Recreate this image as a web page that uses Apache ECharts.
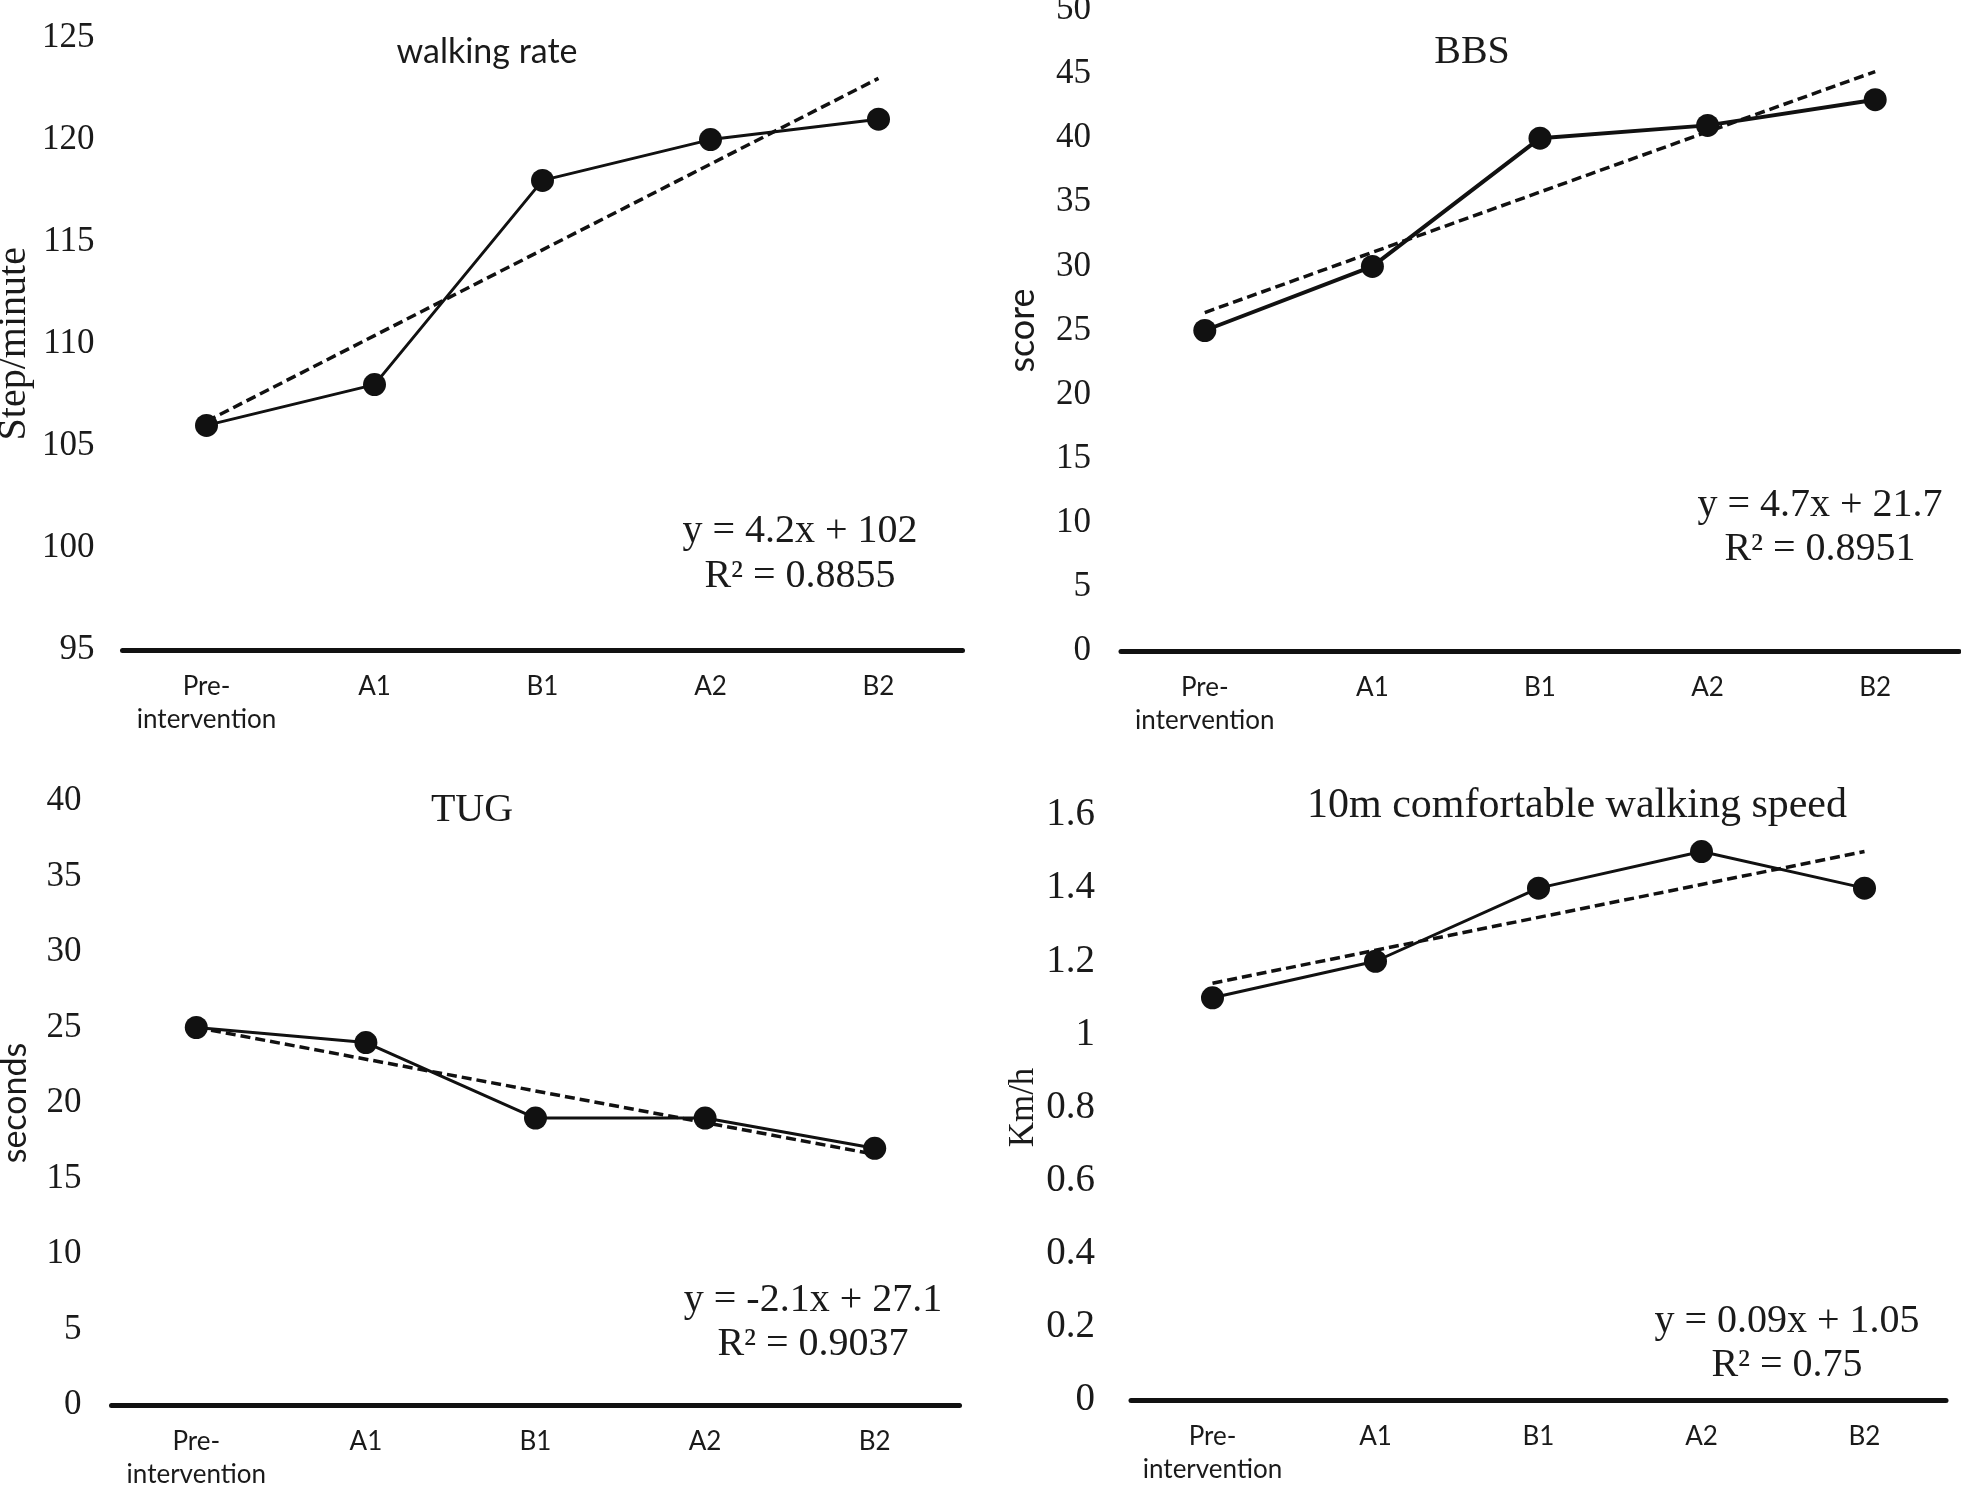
<!DOCTYPE html>
<html>
<head>
<meta charset="utf-8">
<script src="https://cdn.jsdelivr.net/npm/echarts@6/dist/echarts.min.js"></script>
<style>
html,body{margin:0;padding:0;background:#fff;}
#chart{width:1961px;height:1485px;}
</style>
</head>
<body>
<div id="chart"></div>
<script>
// ---- data ----
const categories = ['Pre-\nintervention', 'A1', 'B1', 'A2', 'B2'];

const walkingRate      = [106, 108, 118, 120, 121];
const walkingRateTrend = [106.2, 110.4, 114.6, 118.8, 123.0];

const bbs      = [25, 30, 40, 41, 43];
const bbsTrend = [26.4, 31.1, 35.8, 40.5, 45.2];

const tug      = [25, 24, 19, 19, 17];
const tugTrend = [25.0, 22.9, 20.8, 18.7, 16.6];

const speed      = [1.1, 1.2, 1.4, 1.5, 1.4];
const speedTrend = [1.14, 1.23, 1.32, 1.41, 1.50];

const panelTitles = ['walking rate', 'BBS', 'TUG', '10m comfortable walking speed'];
const axisNames   = ['Step/minute', 'score', 'seconds', 'Km/h'];
const equations   = [
  ['y = 4.2x + 102', 'R\u00B2 = 0.8855'],
  ['y = 4.7x + 21.7', 'R\u00B2 = 0.8951'],
  ['y = -2.1x + 27.1', 'R\u00B2 = 0.9037'],
  ['y = 0.09x + 1.05', 'R\u00B2 = 0.75']
];
const yRanges = [
  {min: 95, max: 125, interval: 5},
  {min: 0, max: 50, interval: 5},
  {min: 0, max: 40, interval: 5},
  {min: 0, max: 1.6, interval: 0.2}
];

// ---- layout ----
const SERIF = '"Liberation Serif", "Times New Roman", serif';
const SANS = 'Lato, "Noto Sans", sans-serif';
const INK = '#111';

const grids = [
  {left: 122.5, top: 37.5, width: 840, height: 612.5},
  {left: 1121, top: 10, width: 838, height: 641},
  {left: 111.5, top: 801, width: 848, height: 604},
  {left: 1131, top: 815, width: 815, height: 585}
];
const labelMargins = [28, 30, 30, 36];
const labelSizes = [35, 35, 35, 39];
const nameGaps = [88, 81, 79, 90];
const nameFonts = [
  {fontFamily: SERIF, fontSize: 40},
  {fontFamily: SANS, fontSize: 36},
  {fontFamily: SANS, fontSize: 34},
  {fontFamily: SERIF, fontSize: 35}
];
const titlePos = [[487, 52, SANS, 34], [1472, 52, SERIF, 40], [472, 810, SERIF, 40], [1577, 806, SERIF, 42]];
const eqPos = [[800, 531, 576], [1820, 505, 549], [813, 1300, 1344], [1787, 1321, 1365]];

const values = [walkingRate, bbs, tug, speed];
const trends = [walkingRateTrend, bbsTrend, tugTrend, speedTrend];

const xAxis = [], yAxis = [], series = [], graphic = [];
for (let i = 0; i < 4; i++) {
  xAxis.push({
    type: 'category', gridIndex: i, data: categories, boundaryGap: true,
    axisLine: {show: true, lineStyle: {color: INK, width: 5}},
    axisTick: {show: false},
    axisLabel: {interval: 0, fontFamily: SANS, fontSize: 26, color: '#1a1a1a', lineHeight: 33, margin: 20}
  });
  yAxis.push({
    type: 'value', gridIndex: i,
    min: yRanges[i].min, max: yRanges[i].max, interval: yRanges[i].interval,
    axisLine: {show: false}, axisTick: {show: false}, splitLine: {show: false},
    axisLabel: {
      fontFamily: SERIF, fontSize: labelSizes[i], color: '#1a1a1a', margin: labelMargins[i],
      formatter: v => String(+v.toFixed(1))
    },
    name: axisNames[i], nameLocation: 'middle', nameRotate: 90, nameGap: nameGaps[i],
    nameTextStyle: Object.assign({color: '#1a1a1a'}, nameFonts[i])
  });
  series.push({
    type: 'line', xAxisIndex: i, yAxisIndex: i, data: trends[i],
    symbol: 'none', z: 2, silent: true,
    lineStyle: {color: INK, width: 3.5, type: [10, 5]}
  });
  series.push({
    type: 'line', xAxisIndex: i, yAxisIndex: i, data: values[i],
    symbol: 'circle', symbolSize: 23, z: 3,
    itemStyle: {color: INK},
    lineStyle: {color: INK, width: i === 1 ? 4 : 3}
  });
  const t = titlePos[i];
  graphic.push({
    type: 'text', x: t[0], y: t[1],
    style: {text: panelTitles[i], fill: '#1a1a1a', font: t[3] + 'px ' + t[2], textAlign: 'center', textVerticalAlign: 'middle'}
  });
  const e = eqPos[i];
  graphic.push({
    type: 'text', x: e[0], y: e[1],
    style: {text: equations[i][0], fill: '#1a1a1a', font: '40px ' + SERIF, textAlign: 'center', textVerticalAlign: 'middle'}
  });
  graphic.push({
    type: 'text', x: e[0], y: e[2],
    style: {text: equations[i][1], fill: '#1a1a1a', font: '40px ' + SERIF, textAlign: 'center', textVerticalAlign: 'middle'}
  });
}

const chart = echarts.init(document.getElementById('chart'), null, {renderer: 'canvas'});
chart.setOption({
  backgroundColor: '#fff',
  animation: false,
  grid: grids.map(g => Object.assign({containLabel: false, outerBoundsMode: 'none'}, g)),
  xAxis, yAxis, series, graphic
});
</script>
</body>
</html>
